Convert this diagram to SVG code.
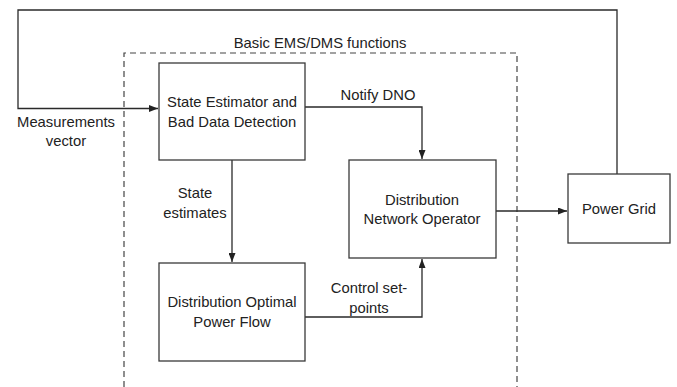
<svg xmlns="http://www.w3.org/2000/svg" width="677" height="387" viewBox="0 0 677 387">
<style>
.box{fill:#fff;stroke:#3a3a3a;stroke-width:1.3}
.ln{fill:none;stroke:#2a2a2a;stroke-width:1.3}
.dash{fill:none;stroke:#444;stroke-width:1.2;stroke-dasharray:6 4}
text{font-family:"Liberation Sans",Arial,sans-serif;font-size:14.8px;fill:#222;text-anchor:middle}
</style>
<defs>
<marker id="ah" markerWidth="9" markerHeight="7" refX="9" refY="3.5" orient="auto" markerUnits="userSpaceOnUse">
<path d="M0,0 L9,3.5 L0,7 Z" fill="#222"/>
</marker>
</defs>
<g id="ems-boundary">
<path class="dash" d="M124,387 V53 H517 V387"/>
<text x="320" y="48">Basic EMS/DMS functions</text>
</g>
<g id="connectors">
<path class="ln" d="M617,174 V10 H18 V108.5 H158" marker-end="url(#ah)"/>
<path class="ln" d="M305,107 H422 V159" marker-end="url(#ah)"/>
<path class="ln" d="M232,160 V262" marker-end="url(#ah)"/>
<path class="ln" d="M305,317 H422 V259" marker-end="url(#ah)"/>
<path class="ln" d="M496,211 H567" marker-end="url(#ah)"/>
<text x="66" y="127">Measurements</text>
<text x="66" y="146">vector</text>
<text x="378" y="100">Notify DNO</text>
<text x="195" y="198">State</text>
<text x="195" y="218">estimates</text>
<text x="369" y="293">Control set-</text>
<text x="369" y="313">points</text>
</g>
<g id="state-estimator">
<rect class="box" x="159" y="63" width="146" height="97"/>
<text x="232" y="107">State Estimator and</text>
<text x="232" y="127">Bad Data Detection</text>
</g>
<g id="dopf">
<rect class="box" x="159" y="263" width="146" height="98"/>
<text x="232" y="307">Distribution Optimal</text>
<text x="232" y="327">Power Flow</text>
</g>
<g id="dno">
<rect class="box" x="349" y="160" width="147" height="98"/>
<text x="422" y="205">Distribution</text>
<text x="422" y="224">Network Operator</text>
</g>
<g id="power-grid">
<rect class="box" x="568" y="174" width="102" height="69"/>
<text x="619" y="214">Power Grid</text>
</g>
</svg>
